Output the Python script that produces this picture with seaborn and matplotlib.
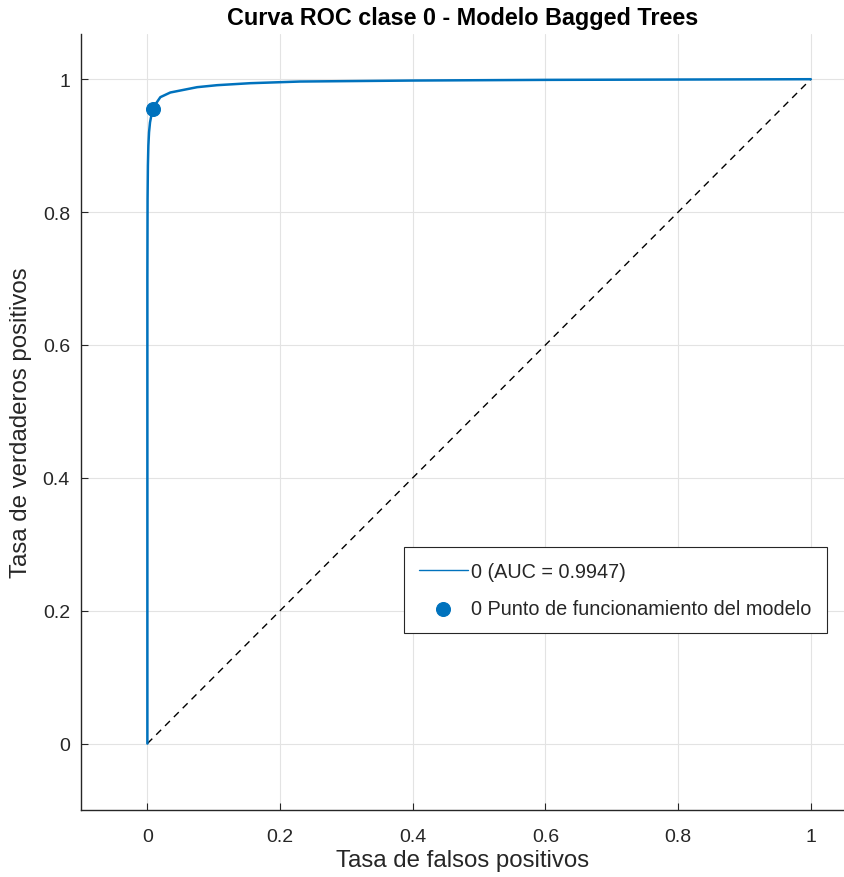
import matplotlib
matplotlib.use("Agg")
import matplotlib.pyplot as plt
import seaborn as sns
import pandas as pd

sns.set_theme(style="white")
plt.rcParams['font.family'] = ['Liberation Sans', 'DejaVu Sans']

# ROC curve
fpr = [0, 0, 0.0003, 0.0008, 0.0015, 0.0025, 0.004, 0.0065, 0.009, 0.012, 0.0196,
       0.0346, 0.0497, 0.075, 0.105, 0.155, 0.23, 0.4, 0.6, 0.8, 1.0]
tpr = [0, 0.70, 0.82, 0.87, 0.90, 0.92, 0.935, 0.948, 0.955, 0.962, 0.973,
       0.980, 0.983, 0.988, 0.991, 0.994, 0.9965, 0.998, 0.999, 0.9995, 1.0]

# operating point
op_fpr = [0.009]
op_tpr = [0.955]

auc_label = "0 (AUC = 0.9947)"
op_label = "0 Punto de funcionamiento del modelo"

ticks = [0, 0.2, 0.4, 0.6, 0.8, 1]
tick_labels = ["0", "0.2", "0.4", "0.6", "0.8", "1"]

blue = "#0072BD"

roc = pd.DataFrame({"fpr": fpr, "tpr": tpr})
op = pd.DataFrame({"fpr": op_fpr, "tpr": op_tpr})

fig = plt.figure(figsize=(8.44, 8.78), dpi=100)
ax = fig.add_axes([0.096, 0.0763, 0.904, 0.8838])

# chance line
ax.plot([0, 1], [0, 1], color="black", linestyle=(0, (5, 4)), linewidth=1, zorder=2)

sns.lineplot(data=roc, x="fpr", y="tpr", color=blue, linewidth=1.8, sort=False,
             estimator=None, label=auc_label, ax=ax, zorder=3)
sns.scatterplot(data=op, x="fpr", y="tpr", color=blue, s=100, edgecolor=blue,
                label=op_label, ax=ax, zorder=4)

ax.set_xlim(-0.1, 1.05)
ax.set_ylim(-0.1, 1.068)
ax.set_xticks(ticks)
ax.set_xticklabels(tick_labels)
ax.set_yticks(ticks)
ax.set_yticklabels(tick_labels)

ax.grid(True, color="#e3e3e3", linewidth=0.8)
ax.set_axisbelow(True)
for side in ["top", "right"]:
    ax.spines[side].set_visible(False)
for side in ["left", "bottom"]:
    ax.spines[side].set_color("#262626")
    ax.spines[side].set_linewidth(1.0)

ax.tick_params(direction="in", length=5, width=0.8, colors="#262626",
               labelsize=14, left=True, bottom=True)
ax.tick_params(axis="y", pad=8)
ax.tick_params(axis="x", pad=13)

ax.set_xlabel("Tasa de falsos positivos", fontsize=17.3, color="#262626", labelpad=3)
ax.set_ylabel("Tasa de verdaderos positivos", fontsize=17.3, color="#262626", labelpad=8)
ax.set_title("Curva ROC clase 0 - Modelo Bagged Trees", fontsize=16.8, fontweight="bold",
             color="black", pad=7)

leg = ax.legend(loc="upper left", bbox_to_anchor=(0.423, 0.339), fontsize=14.3,
                frameon=True, fancybox=False, borderpad=0.75, handlelength=2.5,
                labelspacing=0.9, handletextpad=0.15, borderaxespad=0)
leg.get_frame().set_edgecolor("#262626")
leg.get_frame().set_linewidth(0.8)
leg.get_frame().set_alpha(1)
leg.get_lines()[0].set_linewidth(1.0)

fig.savefig("out.png", dpi=100)
